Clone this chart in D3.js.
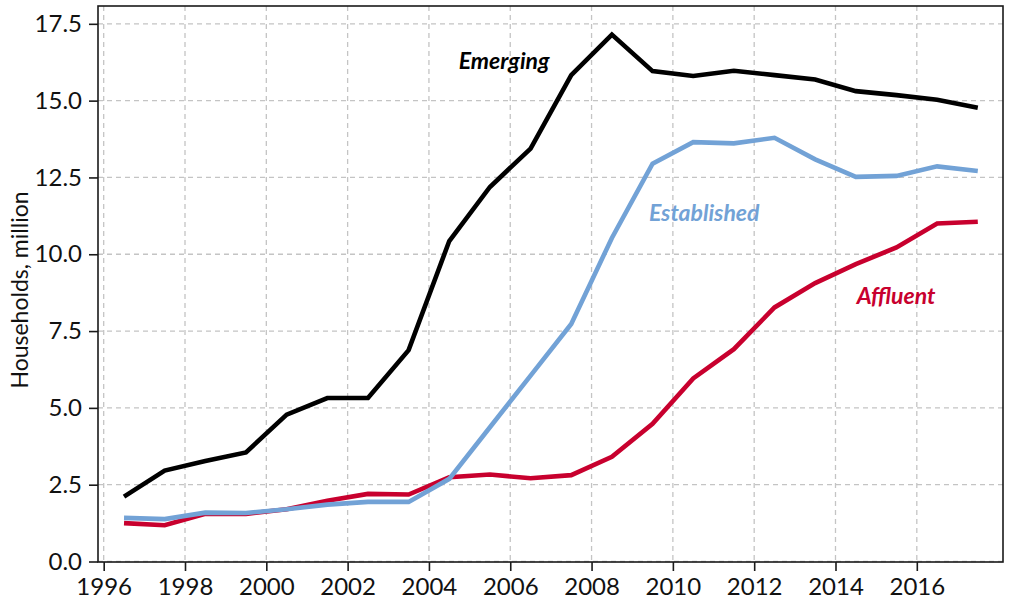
<!DOCTYPE html>
<html>
<head>
<meta charset="utf-8">
<script src="https://cdn.jsdelivr.net/npm/d3@7"></script>
<style>
  html, body { margin: 0; padding: 0; background: #fff; }
  svg { display: block; font-family: Lato, "Open Sans", sans-serif; }
</style>
</head>
<body>
<svg id="chart" width="1018" height="612"></svg>
<script>
// ---- data ----
const years = [1996.5, 1997.5, 1998.5, 1999.5, 2000.5, 2001.5, 2002.5, 2003.5, 2004.5, 2005.5, 2006.5,
               2007.5, 2008.5, 2009.5, 2010.5, 2011.5, 2012.5, 2013.5, 2014.5, 2015.5, 2016.5, 2017.5];
const emerging    = [2.11, 2.96, 3.27, 3.55, 4.78, 5.32, 5.32, 6.88, 10.43, 12.19, 13.44,
                     15.83, 17.15, 15.96, 15.80, 15.97, 15.83, 15.69, 15.31, 15.18, 15.03, 14.77];
const established = [1.42, 1.38, 1.59, 1.58, 1.70, 1.85, 1.94, 1.94, 2.69, 4.37, 6.05,
                     7.73, 10.53, 12.95, 13.65, 13.61, 13.79, 13.09, 12.52, 12.55, 12.86, 12.71];
const affluent    = [1.25, 1.18, 1.55, 1.55, 1.70, 1.98, 2.20, 2.18, 2.74, 2.83, 2.71,
                     2.81, 3.41, 4.48, 5.96, 6.91, 8.27, 9.06, 9.68, 10.22, 11.00, 11.06];
const seriesNames = ["Emerging", "Established", "Affluent"];
const xTicks = [1996, 1998, 2000, 2002, 2004, 2006, 2008, 2010, 2012, 2014, 2016];
const yTicks = [0, 2.5, 5, 7.5, 10, 12.5, 15, 17.5];
const yLabel = "Households, million";

// ---- layout ----
const svg = d3.select("#chart");
const L = 98, R = 1003, T = 6, B = 562;
const x = d3.scaleLinear().domain([1995.86, 2018.12]).range([L, R]);
const y = d3.scaleLinear().domain([0, 18.08]).range([B - 0.5, T]);

const colors = { Emerging: "#000000", Established: "#72a2d6", Affluent: "#c8002e" };
const dataBy = { Emerging: emerging, Established: established, Affluent: affluent };

// grid
const grid = svg.append("g").attr("stroke", "#c4c4c4").attr("stroke-width", 1.3)
  .attr("stroke-dasharray", "5,4");
grid.selectAll(".gx").data(xTicks).join("line")
  .attr("x1", d => x(d)).attr("x2", d => x(d)).attr("y1", T).attr("y2", B);
grid.selectAll(".gy").data(yTicks).join("line")
  .attr("x1", L).attr("x2", R).attr("y1", d => y(d)).attr("y2", d => y(d));

// lines
const line = d3.line().x((d, i) => x(years[i])).y(d => y(d));
seriesNames.slice().reverse().forEach(name => {
  svg.append("path").datum(dataBy[name])
    .attr("fill", "none").attr("stroke", colors[name]).attr("stroke-width", 4.6)
    .attr("stroke-linejoin", "miter").attr("d", line);
});

// frame
svg.append("rect").attr("x", L).attr("y", T).attr("width", R - L).attr("height", B - T)
  .attr("fill", "none").attr("stroke", "#1a1a1a").attr("stroke-width", 1.6);

// axes
const xAxis = d3.axisBottom(x).tickValues(xTicks).tickFormat(d3.format("d"))
  .tickSize(9).tickPadding(7);
const gx = svg.append("g").attr("transform", `translate(0,${B})`).call(xAxis);
const yAxis = d3.axisLeft(y).tickValues(yTicks).tickFormat(d3.format(".1f"))
  .tickSize(9).tickPadding(7);
const gy = svg.append("g").attr("transform", `translate(${L},0)`).call(yAxis);
[gx, gy].forEach(g => {
  g.select(".domain").remove();
  g.selectAll(".tick line").attr("stroke", "#1a1a1a").attr("stroke-width", 1.6);
  g.selectAll(".tick text").attr("fill", "#111").style("font-size", "24px")
    .style("font-family", "Lato, 'Open Sans', sans-serif");
});

// y label
svg.append("text")
  .attr("transform", `translate(28,290) rotate(-90)`)
  .attr("text-anchor", "middle")
  .style("font-size", "23px").attr("fill", "#111")
  .text(yLabel);

// series labels (center x in years, baseline y in data units)
const labelPos = { Emerging: [2005.85, 16.03], Established: [2010.77, 11.08], Affluent: [2015.49, 8.38] };
seriesNames.forEach(name => {
  svg.append("text")
    .attr("x", x(labelPos[name][0])).attr("y", y(labelPos[name][1]))
    .attr("text-anchor", "middle")
    .style("font-size", "23px").style("font-weight", "bold").style("font-style", "italic")
    .attr("fill", colors[name]).text(name);
});
</script>
</body>
</html>
